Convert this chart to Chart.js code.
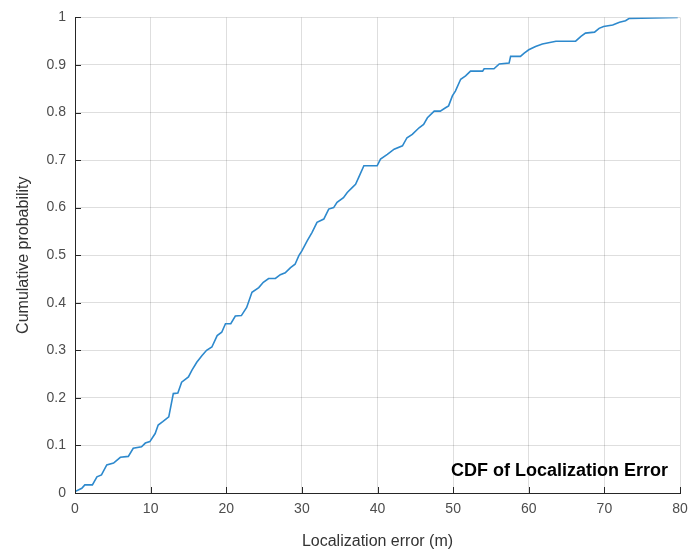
<!DOCTYPE html>
<html>
<head>
<meta charset="utf-8">
<script src="https://cdn.jsdelivr.net/npm/chart.js@4.4.1/dist/chart.umd.min.js"></script>
<style>
  html, body { margin: 0; padding: 0; background: #fff; }
  #wrap { width: 690px; height: 552px; }
</style>
</head>
<body>
<div id="wrap"><canvas id="cdfChart" width="690" height="552"></canvas></div>
<script>
// localization error (m) and cumulative probability, traced along the empirical CDF
const errorM = [
  0, 0.9, 1.3, 2.3, 2.9, 3.5, 4.2, 5.1, 6.0, 7.05, 7.7, 8.8, 9.3, 9.9,
  10.6, 11.0, 11.6, 12.4, 13.0, 13.6, 14.1, 15.0, 15.45, 16.1, 16.8, 17.4,
  18.1, 18.8, 19.4, 19.9, 20.6, 21.2, 22.0, 22.7, 23.4, 24.3, 24.9, 25.6,
  26.5, 27.15, 27.8, 28.5, 29.1, 29.6, 30.0, 30.7, 31.35, 32.0, 32.9, 33.55,
  34.2, 34.65, 35.5, 36.0, 36.65, 37.1, 37.5, 38.2, 39.95, 40.4, 41.3, 42.2,
  43.3, 43.9, 44.6, 45.5, 46.1, 46.6, 47.5, 48.3, 49.0, 49.4, 49.9, 50.3,
  51.0, 51.65, 52.3, 53.9, 54.1, 55.4, 56.1, 57.4, 57.6, 58.9, 59.4, 60.0,
  60.9, 61.8, 63.6, 66.2, 66.9, 67.5, 68.7, 69.3, 69.9, 71.1, 72.0, 72.8,
  73.3, 79.7
];
const cumProb = [
  0.003, 0.01, 0.017, 0.017, 0.034, 0.038, 0.059, 0.063, 0.075, 0.077, 0.094, 0.097, 0.105, 0.108,
  0.125, 0.143, 0.15, 0.16, 0.209, 0.21, 0.233, 0.244, 0.258, 0.275, 0.289, 0.3,
  0.307, 0.331, 0.338, 0.356, 0.356, 0.372, 0.373, 0.39, 0.422, 0.432, 0.443, 0.451,
  0.451, 0.459, 0.463, 0.474, 0.481, 0.499, 0.509, 0.53, 0.548, 0.569, 0.576, 0.597,
  0.6, 0.611, 0.621, 0.632, 0.642, 0.649, 0.663, 0.688, 0.688, 0.702, 0.712, 0.723,
  0.73, 0.747, 0.754, 0.768, 0.775, 0.789, 0.803, 0.803, 0.81, 0.814, 0.835, 0.845,
  0.87, 0.877, 0.887, 0.887, 0.892, 0.892, 0.902, 0.904, 0.918, 0.918, 0.925, 0.932,
  0.939, 0.944, 0.95, 0.95, 0.96, 0.967, 0.969, 0.977, 0.981, 0.984, 0.99, 0.993,
  0.998, 1.0
];
const xTicks = [0, 10, 20, 30, 40, 50, 60, 70, 80];
const yTicks = [0, 0.1, 0.2, 0.3, 0.4, 0.5, 0.6, 0.7, 0.8, 0.9, 1];

const FONT = '"Liberation Sans", Arial, Helvetica, sans-serif';
const AXIS_COLOR = '#262626';

// inward tick marks on both axes + the text box in the lower right corner
const axisDecor = {
  id: 'axisDecor',
  afterDraw(chart) {
    const { ctx, chartArea: a, scales } = chart;
    ctx.save();
    ctx.strokeStyle = AXIS_COLOR;
    ctx.lineWidth = 1;
    ctx.beginPath();
    xTicks.forEach(v => {
      const px = Math.round(scales.x.getPixelForValue(v)) + 0.5;
      ctx.moveTo(px, a.bottom);
      ctx.lineTo(px, a.bottom - 6);
    });
    yTicks.forEach(v => {
      const py = Math.round(scales.y.getPixelForValue(v)) + 0.5;
      ctx.moveTo(a.left, py);
      ctx.lineTo(a.left + 6, py);
    });
    ctx.stroke();

    ctx.fillStyle = '#000';
    ctx.font = 'bold 18px ' + FONT;
    ctx.textAlign = 'right';
    ctx.textBaseline = 'middle';
    ctx.fillText('CDF of Localization Error', a.right - 12, a.bottom - 22);
    ctx.restore();
  }
};

new Chart(document.getElementById('cdfChart'), {
  type: 'scatter',
  data: {
    datasets: [{
      label: 'CDF',
      data: errorM.map((x, i) => ({ x: x, y: cumProb[i] })),
      showLine: true,
      borderColor: 'rgb(45, 137, 205)',
      borderWidth: 1.6,
      pointRadius: 0,
      tension: 0,
      fill: false
    }]
  },
  options: {
    responsive: false,
    animation: false,
    layout: { padding: { left: 0, right: 10, top: 16, bottom: 0 } },
    plugins: {
      legend: { display: false },
      tooltip: { enabled: false }
    },
    scales: {
      x: {
        type: 'linear',
        min: 0,
        max: 80,
        afterBuildTicks: s => { s.ticks = xTicks.map(v => ({ value: v })); },
        afterFit: s => {
          s.height = 59;
          // let the end labels hang past the plot edges
          s.paddingLeft = 0;
          s.paddingRight = 0;
        },
        grid: { color: 'rgba(0,0,0,0.13)', drawTicks: false, tickLength: 0 },
        border: { color: AXIS_COLOR, width: 1 },
        ticks: { color: '#4d4d4d', font: { family: FONT, size: 14 }, padding: 8 },
        title: {
          display: true,
          text: 'Localization error (m)',
          color: '#333',
          font: { family: FONT, size: 16 },
          padding: { top: 2, bottom: 1 }
        }
      },
      y: {
        min: 0,
        max: 1,
        afterBuildTicks: s => { s.ticks = yTicks.map(v => ({ value: v })); },
        afterFit: s => { s.width = 75; },
        grid: { color: 'rgba(0,0,0,0.13)', drawTicks: false, tickLength: 0 },
        border: { color: AXIS_COLOR, width: 1 },
        ticks: {
          color: '#4d4d4d',
          font: { family: FONT, size: 14 },
          padding: 9,
          callback: v => String(Math.round(v * 10) / 10)
        },
        title: {
          display: true,
          text: 'Cumulative probability',
          color: '#333',
          font: { family: FONT, size: 16 },
          padding: { top: 14, bottom: 0 }
        }
      }
    }
  },
  plugins: [axisDecor]
});
</script>
</body>
</html>
